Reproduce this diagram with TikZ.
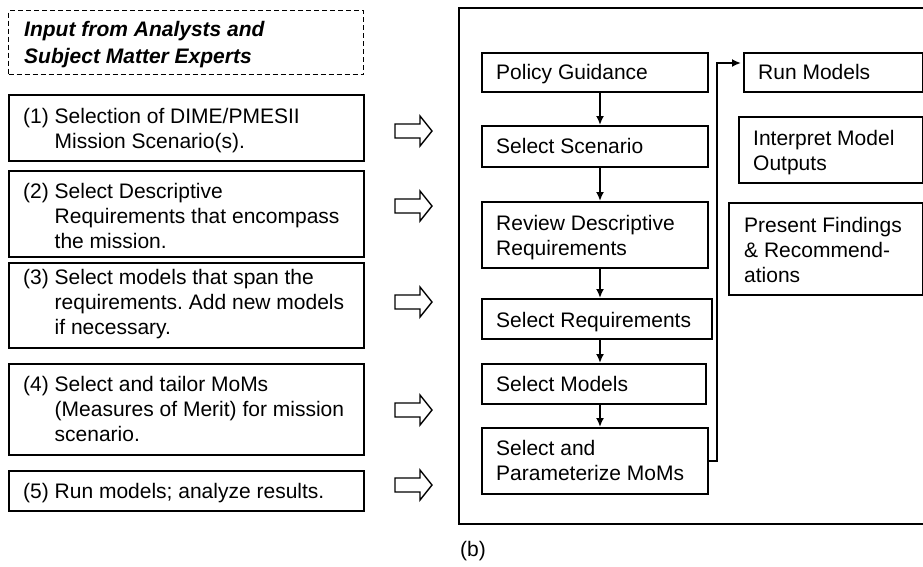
\documentclass[tikz,border=0pt]{standalone}
\usepackage{fontspec}
\setmainfont{Liberation Sans}
\usetikzlibrary{arrows.meta}
\frenchspacing
\newcommand{\rowof}[1]{\hbox{#1}}
\newcommand{\ind}{\hspace{31.5pt}}
\begin{document}
\begin{tikzpicture}[x=1pt,y=-1pt,
  box/.style={draw, line width=1.5pt, inner sep=0pt, anchor=north west},
  lbl/.style={anchor=base west, inner sep=0pt, font=\fontsize{21}{25}\selectfont},
  flow/.style={line width=2pt, -{Latex[length=9pt,width=8pt]}},
  blk/.style={draw, line width=1.4pt, fill=white, line join=miter},
  blockarrow/.pic={\draw[blk] (0,-7) -- (25,-7) -- (25,-15) -- (37,0) -- (25,15) -- (25,7) -- (0,7) -- cycle;}]
\useasboundingbox (0,0) rectangle (923,566);

% ---------- left column ----------
\node[box, dashed, dash pattern=on 5pt off 3pt, line width=1.1pt, minimum width=355pt, minimum height=64pt] (hdr) at (8,10) {};
\node[lbl, font=\fontsize{21}{27}\selectfont\bfseries\itshape] (thdr) at (24,36)
  {\vtop{\rowof{Input from Analysts and}\rowof{Subject Matter Experts}}};

\node[box, minimum width=355pt, minimum height=66pt] (b1) at (8,94) {};
\node[lbl] (t1) at (23,123) {\vtop{\rowof{(1) Selection of DIME/PMESII}\rowof{\ind Mission Scenario(s).}}};

\node[box, minimum width=355pt, minimum height=86pt] (b2) at (8,170) {};
\node[lbl] (t2) at (23,198) {\vtop{\rowof{(2) Select Descriptive}\rowof{\ind Requirements that encompass}\rowof{\ind the mission.}}};

\node[box, minimum width=355pt, minimum height=85pt] (b3) at (8,262) {};
\node[lbl] (t3) at (23,284) {\vtop{\rowof{(3) Select models that span the}\rowof{\ind requirements. Add new models}\rowof{\ind if necessary.}}};

\node[box, minimum width=355pt, minimum height=91pt] (b4) at (8,363) {};
\node[lbl] (t4) at (23,391) {\vtop{\rowof{(4) Select and tailor MoMs}\rowof{\ind (Measures of Merit) for mission}\rowof{\ind scenario.}}};

\node[box, minimum width=355pt, minimum height=40pt] (b5) at (8,470) {};
\node[lbl] (t5) at (23,498) {(5) Run models; analyze results.};

% ---------- block arrows ----------
\pic at (395,131) {blockarrow};
\pic at (395,206) {blockarrow};
\pic at (395,302) {blockarrow};
\pic at (395,410) {blockarrow};
\pic at (395,485) {blockarrow};

% ---------- right frame ----------
\draw[line width=1.6pt] (923,8) -- (459,8) -- (459,524) -- (923,524);

\node[box, minimum width=226pt, minimum height=39pt] (pg) at (481,52) {};
\node[lbl] (tpg) at (496,79) {Policy Guidance};

\node[box, minimum width=226pt, minimum height=41pt] (ss) at (481,125) {};
\node[lbl] (tss) at (496,153) {Select Scenario};

\node[box, minimum width=226pt, minimum height=66pt] (rd) at (481,201) {};
\node[lbl] (trd) at (496,230) {\vtop{\rowof{Review Descriptive}\rowof{Requirements}}};

\node[box, minimum width=230pt, minimum height=40pt] (sr) at (481,298) {};
\node[lbl] (tsr) at (496,327) {Select Requirements};

\node[box, minimum width=224pt, minimum height=40pt] (sm) at (481,363) {};
\node[lbl] (tsm) at (496,391) {Select Models};

\node[box, minimum width=226pt, minimum height=66pt] (sp) at (481,427) {};
\node[lbl] (tsp) at (496,455) {\vtop{\rowof{Select and}\rowof{Parameterize MoMs}}};

\node[box, minimum width=179pt, minimum height=39pt] (rm) at (743,52) {};
\node[lbl] (trm) at (758,79) {Run Models};

\node[box, minimum width=184pt, minimum height=66pt] (im) at (738,116) {};
\node[lbl] (tim) at (753,145) {\vtop{\rowof{Interpret Model}\rowof{Outputs}}};

\node[box, minimum width=194pt, minimum height=92pt] (pf) at (728,202) {};
\node[lbl] (tpf) at (744,232) {\vtop{\rowof{Present Findings}\rowof{\& Recommend-}\rowof{ations}}};

% ---------- connectors ----------
\coordinate (ax) at (600,0);
\coordinate (bx) at (717,0);
\coordinate (ry) at (0,63);
\draw[flow] (pg.south -| ax) -- (ss.north -| ax);
\draw[flow] (ss.south -| ax) -- (rd.north -| ax);
\draw[flow] (rd.south -| ax) -- (sr.north -| ax);
\draw[flow] (sr.south -| ax) -- (sm.north -| ax);
\draw[flow] (sm.south -| ax) -- (sp.north -| ax);
\draw[flow] (sp.east) -- (sp.east -| bx) -- (bx |- ry) -- ([xshift=-2pt]rm.west |- ry);

\node[lbl] (cap) at (460,556) {(b)};
\end{tikzpicture}
\end{document}
